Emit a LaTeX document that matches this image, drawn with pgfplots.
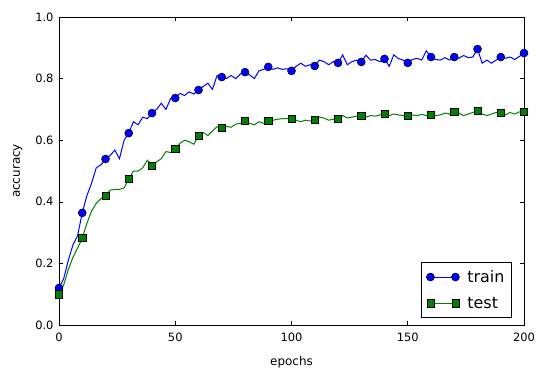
\documentclass[border=0pt]{standalone}
\usepackage{pgfplots}
\pgfplotsset{compat=1.18}
\usepackage{fontspec}
\setmainfont{DejaVu Sans}
\definecolor{mplblue}{rgb}{0,0,1}
\definecolor{mplgreen}{rgb}{0,0.5,0}
\begin{document}
\begin{tikzpicture}[x=1bp,y=1bp]
\path[use as bounding box] (0,0) rectangle (546,377);
\begin{axis}[
  at={(59bp,52bp)}, anchor=south west,
  scale only axis, width=465bp, height=308bp,
  xmin=0, xmax=200, ymin=0, ymax=1,
  xtick={0,50,100,150,200},
  ytick={0,0.2,0.4,0.6,0.8,1.0},
  /pgf/number format/assume math mode=true,
  yticklabel style={xshift=-2bp,/pgf/number format/.cd,fixed,fixed zerofill,precision=1},
  ticklabel style={font=\fontsize{11.5}{12}\selectfont},
  xticklabel style={yshift=-4bp},
  label style={font=\fontsize{12}{13}\selectfont},
  xlabel={epochs}, ylabel={accuracy},
  xlabel shift=8bp, ylabel shift=6bp,
  axis line style={black, line width=0.9bp},
  major tick length=4bp,
  tick style={black, line width=0.6bp},
  legend style={at={(0.974,0.023)}, anchor=south east, font=\fontsize{16}{18}\selectfont,
    draw=black, line width=0.8bp, inner xsep=5bp, inner ysep=6bp, row sep=9bp, column sep=6bp},
  legend cell align=left,
  legend image code/.code={\draw[#1,mark repeat=1,mark phase=1] plot coordinates {(0bp,0bp) (25bp,0bp)};},
]
\addplot[mplblue, line width=1bp, mark=*, mark repeat=5, mark options={fill=mplblue, draw=black, line width=0.5bp}, mark size=4bp] coordinates {
(0,0.12)(2,0.15)(4,0.21)(6,0.26)(8,0.29)(10,0.364)(12,0.42)(14,0.46)(16,0.51)(18,0.52)
(20,0.539)(22,0.55)(24,0.568)(26,0.54)(28,0.60)(30,0.623)(32,0.66)(34,0.65)(36,0.675)(38,0.67)
(40,0.688)(42,0.70)(44,0.72)(46,0.70)(48,0.735)(50,0.737)(52,0.752)(54,0.745)(56,0.757)(58,0.75)
(60,0.763)(62,0.774)(64,0.785)(66,0.765)(68,0.81)(70,0.805)(72,0.80)(74,0.81)(76,0.80)(78,0.815)
(80,0.821)(82,0.812)(84,0.80)(86,0.825)(88,0.83)(90,0.838)(92,0.83)(94,0.835)(96,0.83)(98,0.832)
(100,0.825)(102,0.84)(104,0.85)(106,0.84)(108,0.845)(110,0.841)(112,0.86)(114,0.855)(116,0.845)(118,0.855)
(120,0.851)(122,0.877)(124,0.845)(126,0.855)(128,0.86)(130,0.854)(132,0.876)(134,0.86)(136,0.862)(138,0.855)
(140,0.864)(142,0.84)(144,0.877)(146,0.865)(148,0.86)(150,0.851)(152,0.862)(154,0.866)(156,0.86)(158,0.89)
(160,0.870)(162,0.862)(164,0.86)(166,0.868)(168,0.86)(170,0.870)(172,0.866)(174,0.875)(176,0.868)(178,0.87)
(180,0.896)(182,0.85)(184,0.86)(186,0.85)(188,0.86)(190,0.870)(192,0.866)(194,0.87)(196,0.862)(198,0.872)
(200,0.883)
};
\addlegendentry{train}
\addplot[mplgreen, line width=1bp, mark=square*, mark repeat=5, mark options={fill=mplgreen, draw=black, line width=0.5bp}, mark size=3.6bp] coordinates {
(0,0.10)(2,0.13)(4,0.18)(6,0.22)(8,0.25)(10,0.282)(12,0.33)(14,0.37)(16,0.395)(18,0.41)
(20,0.419)(22,0.438)(24,0.44)(26,0.44)(28,0.445)(30,0.474)(32,0.50)(34,0.50)(36,0.51)(38,0.535)
(40,0.516)(42,0.53)(44,0.54)(46,0.563)(48,0.56)(50,0.571)(52,0.59)(54,0.60)(56,0.595)(58,0.587)
(60,0.614)(62,0.625)(64,0.615)(66,0.63)(68,0.644)(70,0.640)(72,0.645)(74,0.642)(76,0.652)(78,0.655)
(80,0.662)(82,0.655)(84,0.65)(86,0.66)(88,0.655)(90,0.662)(92,0.665)(94,0.668)(96,0.67)(98,0.67)
(100,0.669)(102,0.665)(104,0.66)(106,0.665)(108,0.662)(110,0.666)(112,0.675)(114,0.672)(116,0.665)(118,0.668)
(120,0.669)(122,0.68)(124,0.672)(126,0.675)(128,0.678)(130,0.679)(132,0.675)(134,0.68)(136,0.678)(138,0.682)
(140,0.685)(142,0.68)(144,0.685)(146,0.682)(148,0.68)(150,0.679)(152,0.682)(154,0.68)(156,0.684)(158,0.68)
(160,0.682)(162,0.68)(164,0.682)(166,0.688)(168,0.685)(170,0.692)(172,0.688)(174,0.68)(176,0.685)(178,0.69)
(180,0.695)(182,0.685)(184,0.68)(186,0.685)(188,0.69)(190,0.688)(192,0.682)(194,0.69)(196,0.685)(198,0.692)
(200,0.692)
};
\addlegendentry{test}
\end{axis}
\end{tikzpicture}
\end{document}
